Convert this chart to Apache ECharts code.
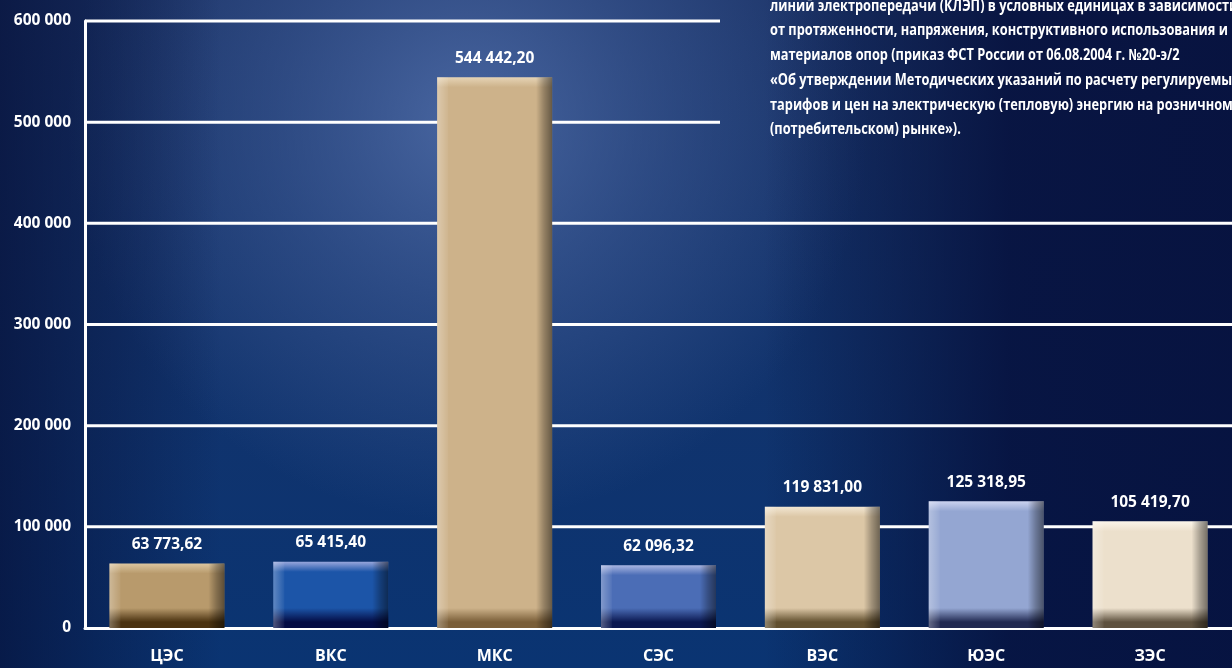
<!DOCTYPE html>
<html>
<head>
<meta charset="utf-8">
<script src="https://cdn.jsdelivr.net/npm/echarts@6/dist/echarts.min.js"></script>
<style>
  html, body { margin: 0; padding: 0; background: #0b1d4c; }
  #chart { width: 1232px; height: 668px; }
</style>
</head>
<body>
<div id="chart"></div>
<script>
// data
const categories = ['ЦЭС', 'ВКС', 'МКС', 'СЭС', 'ВЭС', 'ЮЭС', 'ЗЭС']
const values = [63773.62, 65415.40, 544442.20, 62096.32, 119831.00, 125318.95, 105419.70]
const valueLabels = ['63 773,62', '65 415,40', '544 442,20', '62 096,32', '119 831,00', '125 318,95', '105 419,70']
const yTicks = [0, 100000, 200000, 300000, 400000, 500000, 600000]
const noteLines = [
  'линий электропередачи (КЛЭП) в условных единицах в зависимости',
  'от протяженности, напряжения, конструктивного использования и',
  'материалов опор (приказ ФСТ России от 06.08.2004 г. №20-э/2',
  '«Об утверждении Методических указаний по расчету регулируемых',
  'тарифов и цен на электрическую (тепловую) энергию на розничном',
  '(потребительском) рынке»).'
]

// bar colours: [top light, base, bottom dark]
const barColors = [
  ['#dcc6a0', '#b89a6c', '#4a3210'],
  ['#97a6dc', '#1c55a8', '#040c44'],
  ['#e6d4b6', '#cdb28a', '#7a5e38'],
  ['#aab6e2', '#4b6db6', '#0b1850'],
  ['#f2e6d2', '#dcc7a6', '#62502f'],
  ['#ccd3f0', '#94a6d2', '#222a52'],
  ['#fbf5ea', '#ece0cc', '#5e513e']
]

const font = '"Open Sans", "DejaVu Sans", sans-serif'

const chart = echarts.init(document.getElementById('chart'))

const bgGraphics = [
  {
    type: 'rect', silent: true, z: -10,
    shape: { x: 0, y: 0, width: 1232, height: 668 },
    style: {
      fill: new echarts.graphic.RadialGradient(0.38, 0.18, 0.6, [
        { offset: 0, color: 'rgba(85,115,175,0.8)' },
        { offset: 0.5, color: 'rgba(70,100,160,0.45)' },
        { offset: 1, color: 'rgba(70,100,160,0)' }
      ])
    }
  },
  {
    type: 'rect', silent: true, z: -9,
    shape: { x: 0, y: 0, width: 1232, height: 668 },
    style: {
      fill: new echarts.graphic.LinearGradient(0, 0, 1, 0, [
        { offset: 0, color: 'rgba(6,16,56,0.7)' },
        { offset: 0.18, color: 'rgba(6,16,56,0)' },
        { offset: 0.62, color: 'rgba(6,16,56,0)' },
        { offset: 0.82, color: 'rgba(6,16,60,0.85)' },
        { offset: 1, color: 'rgba(6,16,60,0.9)' }
      ])
    }
  },
  {
    type: 'text', left: 770, top: -6, z: 10,
    scaleX: 0.825,
    originX: 0,
    style: {
      text: noteLines.join('\n'),
      fill: '#ffffff',
      font: 'bold 15.5px "Open Sans", sans-serif',
      lineHeight: 24.7
    }
  }
]

const option = {
  animation: false,
  backgroundColor: new echarts.graphic.LinearGradient(0, 0, 0, 1, [
    { offset: 0, color: '#1a3266' },
    { offset: 1, color: '#0a3472' }
  ]),
  graphic: bgGraphics,
  grid: { left: 85, top: 21, bottom: 40, width: 1157 },
  xAxis: {
    type: 'category',
    data: categories,
    axisLine: { lineStyle: { color: '#ffffff', width: 3 } },
    axisTick: { show: false },
    axisLabel: { color: '#ffffff', fontFamily: font, fontWeight: 'bold', fontSize: 16, margin: 20 }
  },
  yAxis: {
    type: 'value',
    min: 0, max: 600000, interval: 100000,
    axisLine: { show: true, lineStyle: { color: '#ffffff', width: 3 } },
    axisTick: { show: false },
    splitLine: { show: false },
    axisLabel: {
      color: '#ffffff', fontFamily: font, fontWeight: 'bold', fontSize: 15.5, margin: 14,
      formatter: v => String(v).replace(/\B(?=(\d{3})+(?!\d))/g, ' ')
    }
  },
  series: [
    { type: 'bar', barWidth: 115, z: 3, data: values },
    {
      type: 'bar',
      barWidth: 115,
      barGap: '-100%',
      z: 4,
      data: values,
      itemStyle: {
        color: new echarts.graphic.LinearGradient(0, 0, 1, 0, [
          { offset: 0, color: 'rgba(255,255,255,0.3)' },
          { offset: 0.09, color: 'rgba(255,255,255,0.06)' },
          { offset: 0.1, color: 'rgba(255,255,255,0)' },
          { offset: 0.86, color: 'rgba(0,0,0,0)' },
          { offset: 0.93, color: 'rgba(0,0,0,0.28)' },
          { offset: 1, color: 'rgba(0,0,0,0.5)' }
        ])
      },
      label: {
        show: true,
        position: 'top',
        distance: 11,
        color: '#ffffff',
        fontFamily: font,
        fontWeight: 'bold',
        fontSize: 15.5,
        formatter: p => valueLabels[p.dataIndex]
      }
    }
  ]
}

chart.setOption(option)

// bevel bands of fixed pixel size on every bar
const y0 = chart.convertToPixel({ yAxisIndex: 0 }, 0)
const baseData = values.map((v, i) => {
  const h = y0 - chart.convertToPixel({ yAxisIndex: 0 }, v)
  const c = barColors[i]
  return {
    value: v,
    itemStyle: {
      color: new echarts.graphic.LinearGradient(0, 0, 0, 1, [
        { offset: 0, color: c[0] },
        { offset: 10 / h, color: c[1] },
        { offset: 1 - 20 / h, color: c[1] },
        { offset: 1 - 6 / h, color: c[2] },
        { offset: 1, color: c[2] }
      ])
    }
  }
})

// grid lines; the two top ones stop before the note text
const gridLines = yTicks.filter(t => t > 0).map(t => {
  const y = chart.convertToPixel({ yAxisIndex: 0 }, t)
  const x2 = t >= 500000 ? 720 : 1232
  return {
    type: 'line', silent: true, z: 1,
    shape: { x1: 85, y1: y, x2: x2, y2: y },
    style: { stroke: '#ffffff', lineWidth: 3 }
  }
})

chart.setOption({
  graphic: bgGraphics.concat(gridLines),
  series: [{ data: baseData }, {}]
})
</script>
</body>
</html>
